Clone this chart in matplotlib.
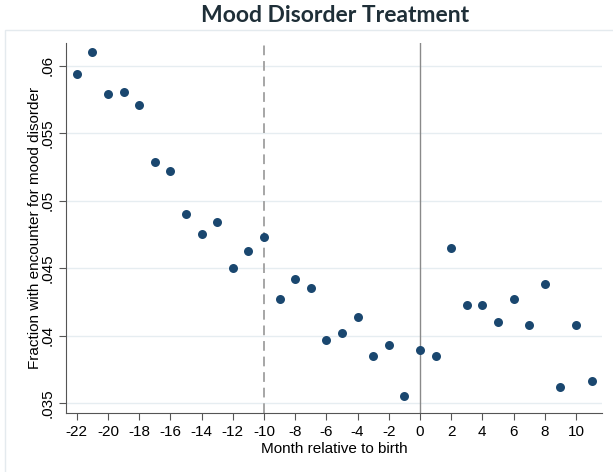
import numpy as np
import matplotlib.pyplot as plt
from matplotlib.patches import Rectangle

# Datos
meses = [-22, -21, -20, -19, -18, -17, -16, -15, -14, -13, -12, -11, -10,
         -9, -8, -7, -6, -5, -4, -3, -2, -1, 0, 1, 2, 3, 4, 5, 6, 7, 8, 9, 10, 11]
fraccion = [0.0594, 0.0610, 0.0579, 0.0581, 0.0571, 0.0529, 0.0522, 0.0490,
            0.0475, 0.0484, 0.0450, 0.0463, 0.0473, 0.0427, 0.0442, 0.0435,
            0.0397, 0.0402, 0.0414, 0.0385, 0.0393, 0.0355, 0.0389, 0.0385,
            0.0465, 0.0423, 0.0423, 0.0410, 0.0427, 0.0408, 0.0438, 0.0362,
            0.0408, 0.0366]
xticks = list(range(-22, 11, 2))
yticks = [0.035, 0.04, 0.045, 0.05, 0.055, 0.06]
ytick_labels = ['.035', '.04', '.045', '.05', '.055', '.06']

plt.rcParams['font.family'] = ['Liberation Sans', 'DejaVu Sans']

fig = plt.figure(figsize=(6.13, 4.72), dpi=100)
# marco claro del area del grafico
fig.patches.append(Rectangle((5 / 613, -0.05), 1.0, 1 - 30 / 472 + 0.05,
                             transform=fig.transFigure, fill=False,
                             edgecolor='#e4eaee', linewidth=1))
ax = fig.add_axes([66 / 613, 1 - 413 / 472, (602 - 66) / 613, (413 - 43) / 472])

ax.axvline(-10, color='#a6a6a6', linewidth=1.4, linestyle=(0, (5, 3)), zorder=1)
ax.axvline(0, color='#8a8a8a', linewidth=1.0, zorder=1)
ax.scatter(meses, fraccion, s=42, color='#1a476f', zorder=3, linewidths=0)

ax.set_xlim(-22.69, 11.67)
ax.set_ylim(0.03426, 0.0617)
ax.set_xticks(xticks)
ax.set_xticklabels([str(t) for t in xticks], fontsize=11)
ax.set_yticks(yticks)
ax.set_yticklabels(ytick_labels, fontsize=11, rotation=90, va='center')
ax.grid(axis='y', color='#e6edf1', linewidth=1)
ax.set_axisbelow(True)
for s in ['top', 'right']:
    ax.spines[s].set_visible(False)
for s in ['left', 'bottom']:
    ax.spines[s].set_color('#555555')
ax.tick_params(direction='out', length=5, color='#555555', labelcolor='black')
ax.tick_params(axis='y', pad=3)
ax.set_xlabel('Month relative to birth', fontsize=11, labelpad=2)
ax.set_ylabel('Fraction with encounter for mood disorder', fontsize=11, labelpad=-1)

fig.text(335 / 613, 1 - 16 / 472, 'Mood Disorder Treatment', ha='center', va='center',
         fontsize=16.5, fontweight='bold', color='#1f2f38', family=['Lato', 'DejaVu Sans'])

fig.savefig('out.png', dpi=100)
